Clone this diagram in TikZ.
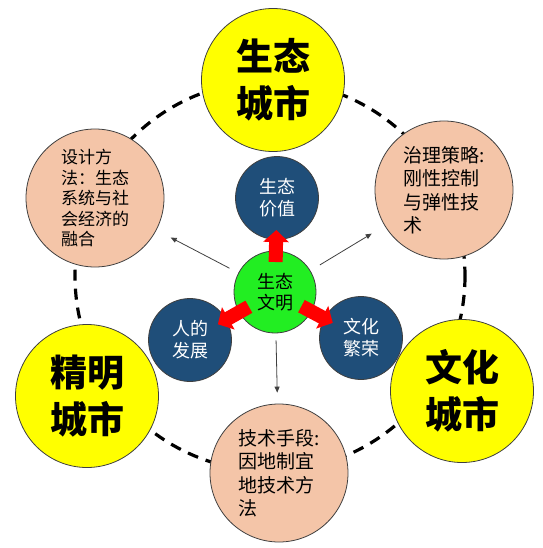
\documentclass[tikz,border=0pt]{standalone}
\usepackage{fontspec}
\usepackage{xcolor}
\usepackage{tikz}
\usetikzlibrary{arrows.meta}
\newfontfamily\cjk{Noto Sans CJK SC}
\definecolor{edge}{HTML}{3F3F3F}
\definecolor{sun}{HTML}{FFFF00}
\definecolor{peach}{HTML}{F4C5A8}
\definecolor{navy}{HTML}{1F4E79}
\definecolor{leaf}{HTML}{22EE22}
\definecolor{fire}{HTML}{FF0000}
\definecolor{grayline}{HTML}{404040}
\tikzset{
  city/.style={circle,draw=edge,line width=0.8pt,fill=sun,minimum size=143pt,inner sep=0pt,align=center,
    font=\cjk\bfseries\fontsize{37}{47}\selectfont},
  method/.style={circle,draw=edge,line width=0.8pt,fill=peach,minimum size=138pt,inner sep=0pt,align=left,
    font=\cjk\fontsize{19}{23.5}\selectfont},
  aim/.style={circle,draw=edge,line width=0.8pt,fill=navy,minimum size=83pt,inner sep=0pt,align=center,text=white,
    font=\cjk\fontsize{18}{22}\selectfont},
  core/.style={circle,draw=edge,line width=0.8pt,fill=leaf,minimum size=82pt,inner sep=0pt,align=center,
    font=\cjk\fontsize{18}{21}\selectfont},
  ring/.style={line width=3.2pt,dash pattern=on 11pt off 8pt},
  redarr/.style={line width=14pt,draw=fire,-{Triangle[length=12pt,width=25pt,fill=fire]},
    shorten <=30pt,shorten >=32pt},
  thinarr/.style={line width=0.8pt,draw=grayline,-{Triangle[length=6pt,width=5pt]}}
}
\begin{document}
\begin{tikzpicture}[x=1pt,y=-1pt]
  \useasboundingbox (0,0) rectangle (542,548);
  % dashed ring behind everything
  \coordinate (hub) at (270,276);
  \draw[ring] (hub) circle[radius=195];
  % outer cities
  \node[city] (ecocity) at (273,80) {生态\\城市};
  \node[city] (smartcity) at (87,396) {精明\\城市};
  \node[city] (culturecity) at (462,391) {文化\\城市};
  % methods between the cities
  \node[method,font=\cjk\fontsize{17}{20.5}\selectfont] (design) at (95,198)
    {设计方\\法：生态\\系统与社\\会经济的\\融合};
  \node[method] (govern) at (444,190) {治理策略:\\刚性控制\\与弹性技\\术};
  \node[method] (tech) at (279,473) {技术手段:\\因地制宜\\地技术方\\法};
  % centre
  \node[core] (civ) at (275,292) {生态\\文明};
  \node[aim] (value) at (277,198) {生态\\价值};
  \node[aim] (people) at (190,340) {人的\\发展};
  \node[aim] (culture) at (361,338) {文化\\繁荣};
  \draw[redarr] (civ.center) -- (value.center);
  \draw[redarr] (civ.center) -- (people.center);
  \draw[redarr] (civ.center) -- (culture.center);
  \draw[thinarr,shorten <=10pt,shorten >=16pt] (civ) -- (design);
  \draw[thinarr,shorten <=11pt,shorten >=15pt] (civ) -- (govern);
  \draw[thinarr,shorten <=7pt,shorten >=11pt] (civ) -- (tech);
\end{tikzpicture}
\end{document}
